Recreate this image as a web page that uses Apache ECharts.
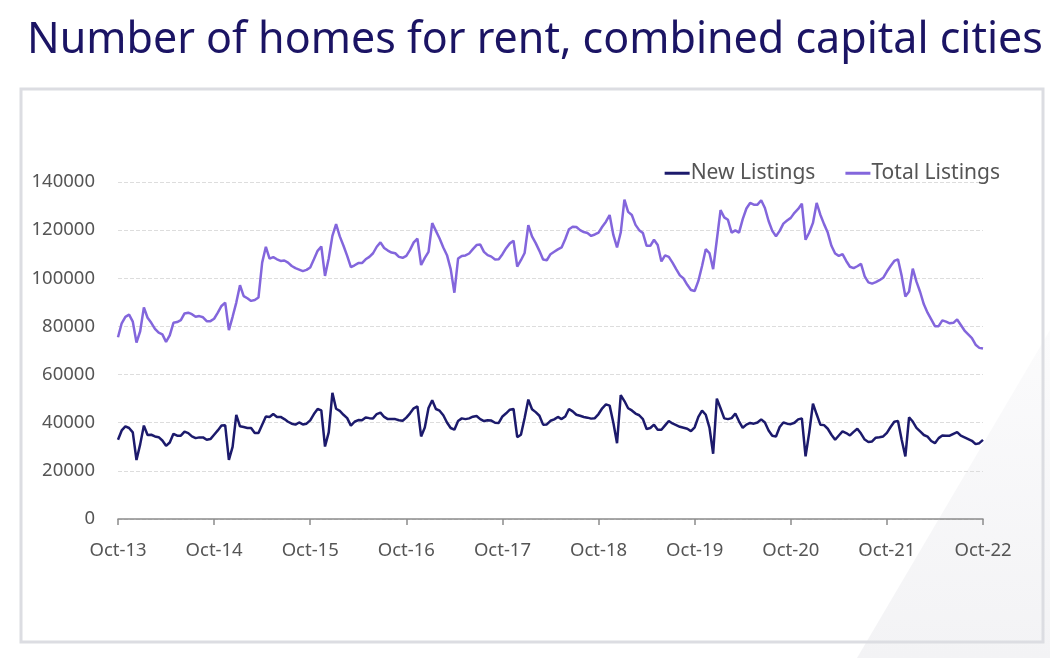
<!DOCTYPE html>
<html>
<head>
    <title>Number of homes for rent</title>
    <style>
        html, body {
            margin: 0;
            padding: 0;
            background: #ffffff;
        }

        #chart {
            width: 1050px;
            height: 658px;
        }
    </style>
    <script src="https://cdn.jsdelivr.net/npm/echarts@6/dist/echarts.min.js"></script>
</head>
<body>
    <div id="chart"></div>

    <script>
        // fortnightly readings, Oct 2013 to Oct 2022
        var tickLabels = ['Oct-13', 'Oct-14', 'Oct-15', 'Oct-16', 'Oct-17', 'Oct-18', 'Oct-19', 'Oct-20', 'Oct-21', 'Oct-22'];

        var newListings = [
            32900, 36800, 38500, 37800, 36000, 24500, 31000, 38800, 34900, 35000,
            34300, 34000, 32600, 30400, 31800, 35400, 34600, 34600, 36300, 35700,
            34300, 33600, 33900, 33900, 32900, 33200, 35000, 36800, 38800, 38900,
            24600, 30000, 43300, 38500, 38200, 37800, 37800, 35700, 35700, 39200,
            42600, 42400, 43600, 42400, 42400, 41500, 40400, 39600, 39200, 40100,
            39300, 39600, 41000, 43600, 45700, 45100, 30100, 36000, 52400, 45800,
            44900, 43300, 41900, 38800, 40400, 41100, 41000, 42200, 41900, 41800,
            43600, 44200, 42400, 41500, 41500, 41500, 41000, 40800, 42100, 43900,
            46000, 46800, 34300, 38000, 46100, 49300, 45700, 45000, 43100, 40100,
            37800, 37100, 40700, 41800, 41500, 41800, 42500, 42800, 41500, 40700,
            41000, 40900, 40000, 39900, 42600, 43900, 45400, 45700, 34000, 35000,
            42000, 49600, 45600, 44400, 42900, 39200, 39300, 40800, 41400, 42400,
            41500, 42600, 45700, 44700, 43300, 42900, 42400, 42100, 41700, 41900,
            43600, 46000, 47600, 47100, 40000, 31500, 51500, 49000, 46000, 45100,
            43800, 43100, 41500, 37400, 37800, 39200, 37100, 37100, 38900, 40700,
            39700, 39000, 38300, 37900, 37500, 36500, 38100, 42400, 45000, 43300,
            38000, 27100, 50000, 46000, 41800, 41500, 41900, 43800, 40600, 37900,
            39200, 39900, 39600, 40100, 41400, 40100, 36800, 34600, 34300, 38200,
            40100, 39600, 39400, 40000, 41400, 41800, 26000, 36000, 47900, 43500,
            39200, 39000, 37500, 35000, 32900, 34700, 36400, 35700, 34700, 36200,
            37500, 35500, 33000, 32000, 32200, 33800, 34000, 34300, 35800, 38200,
            40400, 40700, 32900, 26000, 42200, 40500, 37900, 36400, 34900, 34200,
            32400, 31500, 33600, 34700, 34600, 34600, 35400, 36100, 34600, 33900,
            33200, 32500, 31100, 31500, 32900
        ];

        var totalListings = [
            75500, 81300, 84000, 84900, 82000, 73300, 78000, 87900, 83600, 81500,
            79000, 77400, 76700, 73600, 76300, 81500, 81800, 82600, 85400, 85700,
            85100, 84000, 84300, 83800, 82200, 82200, 83200, 85700, 88500, 89900,
            78500, 84000, 89900, 97100, 92600, 91700, 90600, 91000, 92000, 106500,
            113100, 108200, 108800, 107900, 107200, 107400, 106500, 105100, 104200, 103600,
            103000, 103500, 104500, 107900, 111400, 113200, 101000, 108200, 117600, 122500,
            117400, 113500, 109300, 104600, 105400, 106300, 106300, 107900, 108900, 110400,
            113100, 114900, 112600, 111500, 110700, 110400, 108900, 108500, 109300, 111800,
            114900, 116500, 105500, 108500, 111000, 122900, 119700, 116500, 112800, 109600,
            103800, 94000, 108200, 109300, 109500, 110300, 112100, 113800, 114000, 111000,
            109600, 109000, 107800, 107900, 110000, 112500, 114500, 115600, 104900, 107500,
            110500, 122100, 117400, 114600, 111400, 107800, 107500, 110000, 111000, 112000,
            112800, 116300, 120400, 121400, 121300, 120000, 119200, 118800, 117600, 118200,
            119000, 121400, 123500, 126300, 118000, 112800, 119000, 132700, 127600, 126300,
            122200, 120000, 118800, 113500, 113500, 116000, 113800, 107000, 109500, 108900,
            106500, 103800, 101200, 99900, 97300, 95100, 94700, 98900, 105100, 112100,
            110500, 103800, 116000, 128300, 125300, 124300, 119000, 119900, 119000, 124600,
            129000, 131300, 130600, 130600, 132400, 129200, 123800, 119700, 117500, 119700,
            122700, 124000, 125100, 127200, 128800, 131000, 116000, 119000, 123000, 131300,
            126400, 122500, 119000, 113500, 110300, 109300, 110000, 107200, 104800, 104200,
            105000, 106000, 100800, 98300, 97800, 98400, 99200, 100200, 102800, 105100,
            107200, 107900, 101000, 92400, 94500, 104000, 98600, 94300, 89200, 85700,
            82900, 80100, 80100, 82500, 82000, 81300, 81500, 82900, 80600, 78300,
            76700, 75100, 72400, 71100, 70800
        ];

        var stepsPerYear = 26;

        // one category per fortnight, starting 1 Oct 2013
        var categories = [];
        var start = Date.UTC(2013, 9, 1);
        for (var i = 0; i < totalListings.length; i++) {
            var d = new Date(start + i * 14 * 86400000);
            categories.push(d.toISOString().slice(0, 10));
        }

        function isYearTick(index) {
            return index % stepsPerYear === 0;
        }

        var fontFamily = '"Noto Sans", sans-serif';

        var myChart = echarts.init(document.getElementById('chart'));

        var option = {
            backgroundColor: '#ffffff',
            animation: false,
            title: {
                text: 'Number of homes for rent, combined capital cities',
                left: 22,
                top: 0,
                textStyle: {
                    fontFamily: fontFamily,
                    fontSize: 43,
                    fontWeight: 'normal',
                    color: '#1b1464'
                }
            },
            graphic: [
                {
                    type: 'polygon',
                    z: -10,
                    silent: true,
                    shape: { points: [[1050, 330], [1050, 658], [857, 658]] },
                    style: {
                        fill: new echarts.graphic.LinearGradient(0, 0, 0, 1, [
                            { offset: 0, color: '#fbfbfc' },
                            { offset: 1, color: '#f3f3f5' }
                        ])
                    }
                },
                {
                    type: 'rect',
                    z: -5,
                    silent: true,
                    shape: { x: 21, y: 89, width: 1022, height: 553 },
                    style: { fill: 'none', stroke: '#dcdde2', lineWidth: 3 }
                }
            ],
            legend: {
                right: 45,
                top: 151,
                itemGap: 30,
                itemWidth: 25,
                itemHeight: 3,
                icon: 'rect',
                textStyle: {
                    fontFamily: fontFamily,
                    fontSize: 21,
                    color: '#555555',
                    padding: [0, 0, 0, -4]
                },
                data: ['New Listings', 'Total Listings']
            },
            grid: {
                left: 118,
                right: 67,
                top: 182,
                bottom: 139
            },
            xAxis: {
                type: 'category',
                boundaryGap: false,
                data: categories,
                axisLine: {
                    lineStyle: { color: '#8c8c8c', width: 1.5 }
                },
                axisTick: {
                    interval: function (index) { return isYearTick(index); },
                    length: 6,
                    lineStyle: { color: '#8c8c8c', width: 1.5 }
                },
                axisLabel: {
                    interval: function (index) { return isYearTick(index); },
                    formatter: function (value, index) {
                        return tickLabels[index / stepsPerYear] || '';
                    },
                    margin: 17,
                    fontFamily: fontFamily,
                    fontSize: 18.5,
                    color: '#555555'
                },
                splitLine: { show: false }
            },
            yAxis: {
                type: 'value',
                min: 0,
                max: 140000,
                interval: 20000,
                axisLine: { show: false },
                axisTick: { show: false },
                axisLabel: {
                    formatter: function (value) { return String(value); },
                    margin: 23,
                    fontFamily: fontFamily,
                    fontSize: 18.5,
                    color: '#555555'
                },
                splitLine: {
                    lineStyle: { color: '#dddddd', type: 'dashed', width: 1 }
                }
            },
            series: [
                {
                    name: 'New Listings',
                    type: 'line',
                    data: newListings,
                    showSymbol: false,
                    color: '#1c1a6c',
                    lineStyle: { width: 2.5, color: '#1c1a6c' }
                },
                {
                    name: 'Total Listings',
                    type: 'line',
                    data: totalListings,
                    showSymbol: false,
                    color: '#8366dc',
                    lineStyle: { width: 2.5, color: '#8366dc' }
                }
            ]
        };

        myChart.setOption(option);
    </script>
</body>
</html>
